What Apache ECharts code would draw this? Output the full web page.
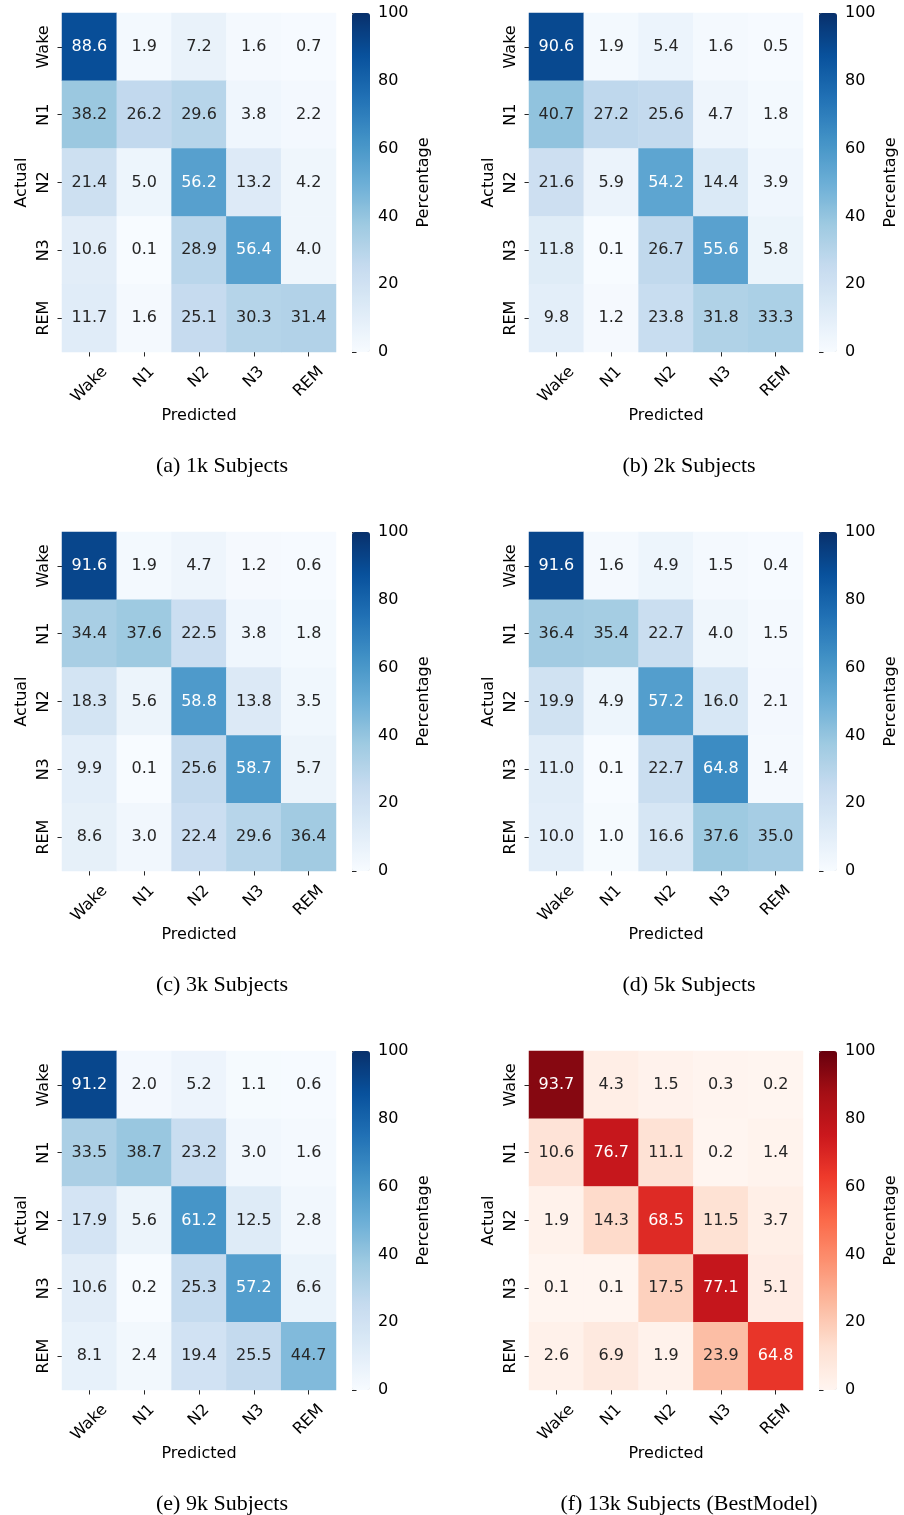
<!DOCTYPE html>
<html>
<head>
<meta charset="utf-8">
<script src="https://cdn.jsdelivr.net/npm/echarts@6/dist/echarts.min.js"></script>
<style>
  html, body { margin: 0; padding: 0; background: #ffffff; }
  #chart { width: 904px; height: 1515px; }
</style>
</head>
<body>
<div id="chart"></div>
<script>
// Sleep stages (rows = actual, columns = predicted)
const stages = ['Wake', 'N1', 'N2', 'N3', 'REM'];

// Row-normalised confusion matrices, in percent
const subjects1k = [
  [88.6, 1.9, 7.2, 1.6, 0.7],
  [38.2, 26.2, 29.6, 3.8, 2.2],
  [21.4, 5.0, 56.2, 13.2, 4.2],
  [10.6, 0.1, 28.9, 56.4, 4.0],
  [11.7, 1.6, 25.1, 30.3, 31.4]
];
const subjects2k = [
  [90.6, 1.9, 5.4, 1.6, 0.5],
  [40.7, 27.2, 25.6, 4.7, 1.8],
  [21.6, 5.9, 54.2, 14.4, 3.9],
  [11.8, 0.1, 26.7, 55.6, 5.8],
  [9.8, 1.2, 23.8, 31.8, 33.3]
];
const subjects3k = [
  [91.6, 1.9, 4.7, 1.2, 0.6],
  [34.4, 37.6, 22.5, 3.8, 1.8],
  [18.3, 5.6, 58.8, 13.8, 3.5],
  [9.9, 0.1, 25.6, 58.7, 5.7],
  [8.6, 3.0, 22.4, 29.6, 36.4]
];
const subjects5k = [
  [91.6, 1.6, 4.9, 1.5, 0.4],
  [36.4, 35.4, 22.7, 4.0, 1.5],
  [19.9, 4.9, 57.2, 16.0, 2.1],
  [11.0, 0.1, 22.7, 64.8, 1.4],
  [10.0, 1.0, 16.6, 37.6, 35.0]
];
const subjects9k = [
  [91.2, 2.0, 5.2, 1.1, 0.6],
  [33.5, 38.7, 23.2, 3.0, 1.6],
  [17.9, 5.6, 61.2, 12.5, 2.8],
  [10.6, 0.2, 25.3, 57.2, 6.6],
  [8.1, 2.4, 19.4, 25.5, 44.7]
];
const subjects13k = [
  [93.7, 4.3, 1.5, 0.3, 0.2],
  [10.6, 76.7, 11.1, 0.2, 1.4],
  [1.9, 14.3, 68.5, 11.5, 3.7],
  [0.1, 0.1, 17.5, 77.1, 5.1],
  [2.6, 6.9, 1.9, 23.9, 64.8]
];

const captions = [
  '(a) 1k Subjects', '(b) 2k Subjects',
  '(c) 3k Subjects', '(d) 5k Subjects',
  '(e) 9k Subjects', '(f) 13k Subjects (BestModel)'
];

// Colour scales (ColorBrewer Blues / Reds)
const BLUES = ['#f7fbff', '#deebf7', '#c6dbef', '#9ecae1', '#6baed6', '#4292c6', '#2171b5', '#08519c', '#08306b'];
const REDS  = ['#fff5f0', '#fee0d2', '#fcbba1', '#fc9272', '#fb6a4a', '#ef3b2c', '#cb181d', '#a50f15', '#67000d'];

const panels = [
  { data: subjects1k, scale: BLUES },
  { data: subjects2k, scale: BLUES },
  { data: subjects3k, scale: BLUES },
  { data: subjects5k, scale: BLUES },
  { data: subjects9k, scale: BLUES },
  { data: subjects13k, scale: REDS }
];

// ---- layout ----
const COL_LEFT = [62, 529];
const ROW_TOP = [13, 532, 1051];
const MAP_W = 274, MAP_H = 339;
const CBAR_OFFSET = 290, CBAR_W = 18;
const FONT = 'DejaVu Sans';
const FS = 16;

function hexToRgb(h) {
  return [parseInt(h.slice(1, 3), 16), parseInt(h.slice(3, 5), 16), parseInt(h.slice(5, 7), 16)];
}
function scaleColor(stops, v) {
  const n = stops.length - 1;
  const t = Math.max(0, Math.min(1, v / 100)) * n;
  const i = Math.min(Math.floor(t), n - 1);
  const f = t - i;
  const a = hexToRgb(stops[i]), b = hexToRgb(stops[i + 1]);
  return a.map((c, k) => c + (b[k] - c) * f);
}
// annotation text: dark on light cells, white on dark cells
function textColorFor(stops, v) {
  const rgb = scaleColor(stops, v).map(c => {
    const x = c / 255;
    return x <= 0.03928 ? x / 12.92 : Math.pow((x + 0.055) / 1.055, 2.4);
  });
  const lum = 0.2126 * rgb[0] + 0.7152 * rgb[1] + 0.0722 * rgb[2];
  return lum > 0.408 ? '#262626' : '#ffffff';
}

// Rotated x labels: the rotated text box hangs centred below its tick.
// With align 'center' / verticalAlign 'top', right padding slides the text
// back along its baseline and top padding pushes it down-right, so the
// combined shift is straight down by 0.35 * text width.
const X_LABEL_MARGIN = 4;
const X_LABEL_DROP = 13.3;          // gap from axis to the label centre line
const measureCtx = document.createElement('canvas').getContext('2d');
measureCtx.font = FS + 'px "' + FONT + '"';
const xCategoryItems = stages.map(s => {
  const w = measureCtx.measureText(s).width;
  const b = 0.7071 * (X_LABEL_DROP + 0.3536 * w);
  const pt = Math.max(0, b - FS / 2);
  const pr = 2 * b;
  return { value: s, textStyle: { align: 'center', verticalAlign: 'top', padding: [pt, pr, 0, 0] } };
});

const grids = [], xAxes = [], yAxes = [], series = [], visualMaps = [], titles = [];

panels.forEach((panel, i) => {
  const col = i % 2, row = Math.floor(i / 2);
  const left = COL_LEFT[col], top = ROW_TOP[row];

  // heatmap grid
  grids.push({ left: left, top: top, width: MAP_W, height: MAP_H, containLabel: false });
  xAxes.push({
    type: 'category', gridIndex: i, data: xCategoryItems, position: 'bottom',
    axisLine: { show: false },
    axisTick: { show: true, alignWithLabel: true, length: 4.5, lineStyle: { color: '#262626', width: 1 } },
    axisLabel: { rotate: 45, margin: X_LABEL_MARGIN, interval: 0,
      fontFamily: FONT, fontSize: FS, color: '#000' },
    splitLine: { show: false }, splitArea: { show: false },
    name: 'Predicted', nameLocation: 'middle', nameGap: 56, nameMoveOverlap: false,
    nameTextStyle: { fontFamily: FONT, fontSize: FS, color: '#000' }
  });
  yAxes.push({
    type: 'category', gridIndex: i, data: stages, inverse: true,
    axisLine: { show: false },
    axisTick: { show: true, alignWithLabel: true, length: 4.5, lineStyle: { color: '#262626', width: 1 } },
    axisLabel: { rotate: 90, margin: 10, interval: 0, fontFamily: FONT, fontSize: FS, color: '#000' },
    splitLine: { show: false }, splitArea: { show: false },
    name: 'Actual', nameLocation: 'middle', nameGap: 32, nameMoveOverlap: false,
    nameTextStyle: { fontFamily: FONT, fontSize: FS, color: '#000' }
  });

  const cells = [];
  panel.data.forEach((rowVals, r) => {
    rowVals.forEach((v, c) => {
      cells.push({ value: [c, r, v], label: { color: textColorFor(panel.scale, v) } });
    });
  });
  series.push({
    type: 'heatmap', xAxisIndex: i, yAxisIndex: i, data: cells,
    label: { show: true, fontFamily: FONT, fontSize: FS,
      formatter: p => p.value[2].toFixed(1) },
    itemStyle: { borderWidth: 0 },
    emphasis: { disabled: true },
    silent: true
  });

  visualMaps.push({
    type: 'continuous', seriesIndex: i, min: 0, max: 100,
    left: left + CBAR_OFFSET, top: top, itemWidth: CBAR_W, itemHeight: MAP_H,
    calculable: false, padding: 0, orient: 'vertical', text: null,
    inRange: { color: panel.scale }
  });

  titles.push({
    text: captions[i], left: left + 160, top: top + 442,
    textAlign: 'center', padding: 0,
    textStyle: { fontFamily: 'Liberation Serif', fontSize: 22, fontWeight: 'normal', color: '#000' }
  });
});

// colour-bar scales
panels.forEach((panel, i) => {
  const col = i % 2, row = Math.floor(i / 2);
  const gi = panels.length + i;
  grids.push({ left: COL_LEFT[col] + CBAR_OFFSET, top: ROW_TOP[row], width: CBAR_W, height: MAP_H });
  xAxes.push({ type: 'value', gridIndex: gi, show: false, min: 0, max: 1 });
  yAxes.push({
    type: 'value', gridIndex: gi, position: 'right', min: 0, max: 100, interval: 20,
    axisLine: { show: false },
    axisTick: { show: true, length: 4.5, lineStyle: { color: '#262626', width: 1 } },
    axisLabel: { margin: 8, fontFamily: FONT, fontSize: FS, color: '#000' },
    splitLine: { show: false },
    name: 'Percentage', nameLocation: 'middle', nameGap: 46, nameMoveOverlap: false,
    nameTextStyle: { fontFamily: FONT, fontSize: FS, color: '#000' }
  });
  series.push({ type: 'line', xAxisIndex: gi, yAxisIndex: gi, data: [], silent: true });
});

const chart = echarts.init(document.getElementById('chart'), null, { renderer: 'canvas' });
chart.setOption({
  animation: false,
  backgroundColor: '#ffffff',
  title: titles,
  grid: grids,
  xAxis: xAxes,
  yAxis: yAxes,
  visualMap: visualMaps,
  series: series
});
</script>
</body>
</html>
